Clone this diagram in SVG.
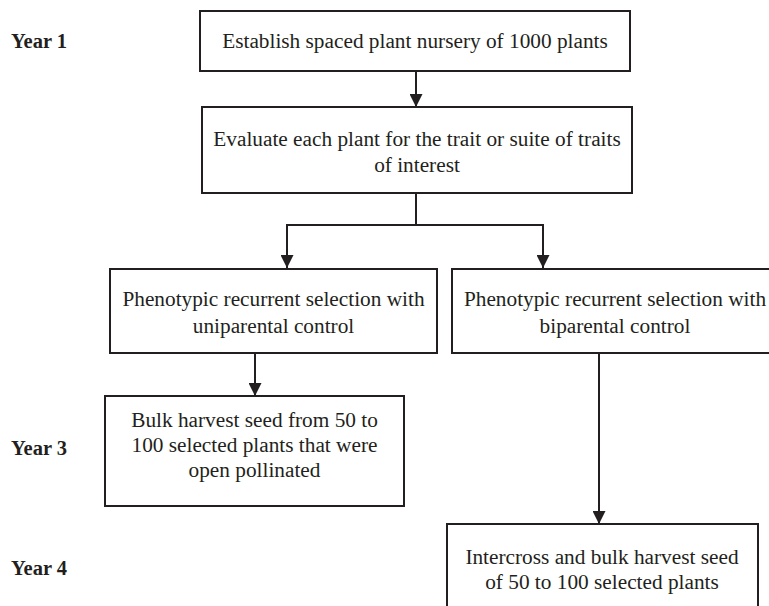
<svg xmlns="http://www.w3.org/2000/svg" width="769" height="606" viewBox="0 0 769 606">
<style>
.box{fill:#fff;stroke:#231f20;stroke-width:2}
.t{font-family:"Liberation Serif","Times New Roman",serif;font-size:21.3px;fill:#231f20;text-anchor:middle}
.y{font-family:"Liberation Serif","Times New Roman",serif;font-size:20.5px;font-weight:bold;fill:#231f20}
.c{fill:none;stroke:#231f20;stroke-width:2}
</style>
<defs>
<marker id="ah" markerUnits="userSpaceOnUse" markerWidth="13" markerHeight="13" refX="13" refY="6.5" orient="auto">
<path d="M0,0 L13,6.5 L0,13 z" fill="#231f20"/>
</marker>
</defs>
<rect width="769" height="606" fill="#fff"/>
<g id="labels">
<text class="y" x="11" y="48">Year 1</text>
<text class="y" x="11" y="455">Year 3</text>
<text class="y" x="11" y="575">Year 4</text>
</g>
<g id="connectors">
<path class="c" d="M416,71 V107" marker-end="url(#ah)"/>
<path class="c" d="M416,193 V225 H287 V268" marker-end="url(#ah)"/>
<path class="c" d="M416,225 H543 V268" marker-end="url(#ah)"/>
<path class="c" d="M255,353 V396" marker-end="url(#ah)"/>
<path class="c" d="M599,353 V524" marker-end="url(#ah)"/>
</g>
<g id="n1">
<rect class="box" x="200" y="11" width="430" height="60"/>
<text class="t" x="415" y="48">Establish spaced plant nursery of 1000 plants</text>
</g>
<g id="n2">
<rect class="box" x="202" y="107" width="430" height="86"/>
<text class="t" x="417" y="146">Evaluate each plant for the trait or suite of traits</text>
<text class="t" x="417" y="172">of interest</text>
</g>
<g id="n3">
<rect class="box" x="110" y="269" width="327" height="84"/>
<text class="t" x="273.5" y="306">Phenotypic recurrent selection with</text>
<text class="t" x="273.5" y="333">uniparental control</text>
</g>
<g id="n4">
<rect class="box" x="452" y="269" width="327" height="84"/>
<text class="t" x="615" y="306">Phenotypic recurrent selection with</text>
<text class="t" x="615" y="333">biparental control</text>
</g>
<g id="n5">
<rect class="box" x="105" y="396" width="299" height="110"/>
<text class="t" x="254.5" y="427">Bulk harvest seed from 50 to</text>
<text class="t" x="254.5" y="452">100 selected plants that were</text>
<text class="t" x="254.5" y="477">open pollinated</text>
</g>
<g id="n6">
<rect class="box" x="447" y="524" width="311" height="100"/>
<text class="t" x="602" y="564">Intercross and bulk harvest seed</text>
<text class="t" x="602" y="589">of 50 to 100 selected plants</text>
</g>
</svg>
